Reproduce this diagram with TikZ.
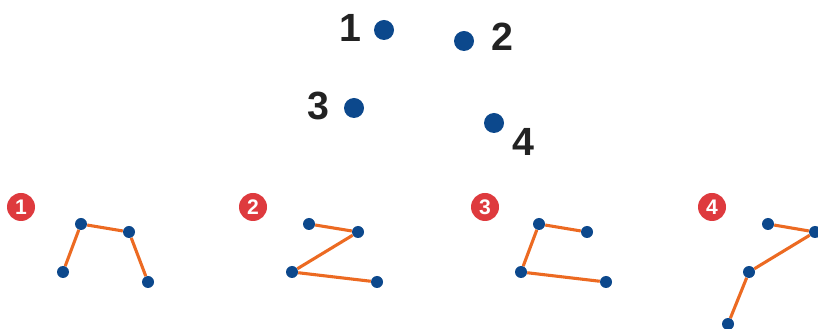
\documentclass[tikz,border=0pt]{standalone}
\usepackage{fontspec}
\setmainfont{Liberation Sans}
\usetikzlibrary{positioning}
\definecolor{DotBlue}{RGB}{12, 72, 140}
\definecolor{LinkOrange}{RGB}{236, 106, 34}
\definecolor{BadgeRed}{RGB}{222, 58, 62}
\definecolor{NumGray}{RGB}{34, 34, 34}

\begin{document}
\begin{tikzpicture}[
  x=0.25mm, y=-0.25mm,
  bigdot/.style={circle, fill=DotBlue, inner sep=0pt, minimum size=5mm},
  dot/.style={circle, fill=DotBlue, inner sep=0pt, minimum size=3mm},
  num/.style={text=NumGray, font=\fontsize{28}{28}\selectfont\bfseries, inner sep=0pt},
  badge/.style={circle, fill=BadgeRed, text=white, inner sep=0pt, minimum size=7mm,
                font=\fontsize{15}{15}\selectfont\bfseries},
  link/.style={draw=LinkOrange, line width=2.2pt}
]
  \useasboundingbox (0,0) rectangle (818,329);

  % the four points
  \node[bigdot] (p1) at (384, 30) {};
  \node[bigdot] (p2) at (464, 41) {};
  \node[bigdot] (p3) at (354,108) {};
  \node[bigdot] (p4) at (494,123) {};
  \node[num] (n1) at (350, 28) {1};
  \node[num] (n2) at (502, 37) {2};
  \node[num] (n3) at (318,106) {3};
  \node[num] (n4) at (523,142) {4};

  % answer 1
  \node[badge] (b1) at (21,207) {1};
  \node[dot] (a1) at ( 81,224) {};
  \node[dot] (a2) at (129,232) {};
  \node[dot] (a3) at ( 63,272) {};
  \node[dot] (a4) at (148,282) {};
  \draw[link] (a3) -- (a1) -- (a2) -- (a4);

  % answer 2
  \node[badge] (b2) at (253,207) {2};
  \node[dot] (c1) at (309,224) {};
  \node[dot] (c2) at (358,232) {};
  \node[dot] (c3) at (292,272) {};
  \node[dot] (c4) at (377,282) {};
  \draw[link] (c1) -- (c2) -- (c3) -- (c4);

  % answer 3
  \node[badge] (b3) at (485,207) {3};
  \node[dot] (d1) at (539,224) {};
  \node[dot] (d2) at (587,232) {};
  \node[dot] (d3) at (521,272) {};
  \node[dot] (d4) at (606,282) {};
  \draw[link] (d2) -- (d1) -- (d3) -- (d4);

  % answer 4
  \node[badge] (b4) at (712,207) {4};
  \node[dot] (e1) at (768,224) {};
  \node[dot] (e2) at (815,232) {};
  \node[dot] (e3) at (749,272) {};
  \node[dot] (e4) at (728,324) {};
  \draw[link] (e1) -- (e2) -- (e3) -- (e4);
\end{tikzpicture}
\end{document}
